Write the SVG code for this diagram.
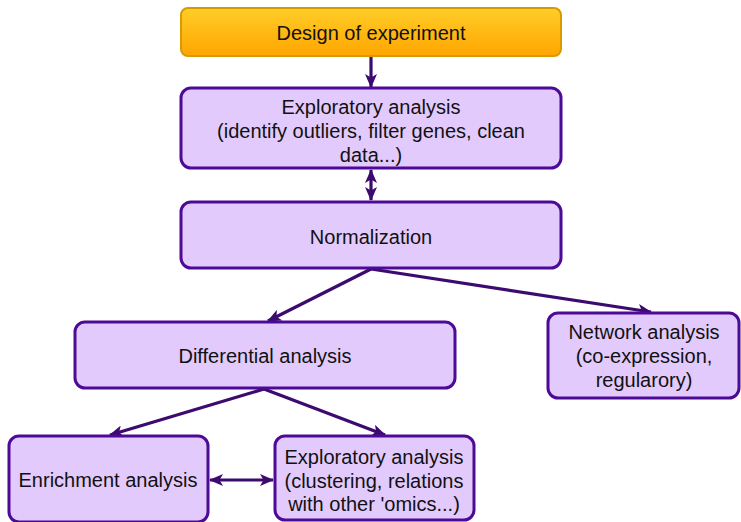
<svg xmlns="http://www.w3.org/2000/svg" width="741" height="522" viewBox="0 0 741 522">
  <defs>
    <linearGradient id="gradOrange" x1="0" y1="0" x2="0" y2="1">
      <stop offset="0" stop-color="#ffcd28"/>
      <stop offset="1" stop-color="#ffa500"/>
    </linearGradient>
    <marker id="arrowEnd" viewBox="0 0 14 12" refX="13" refY="6" markerWidth="14" markerHeight="12" markerUnits="userSpaceOnUse" orient="auto">
      <path d="M0,0 L14,6 L0,12 L3.5,6 Z" fill="#3d0a70"/>
    </marker>
    <marker id="arrowStart" viewBox="0 0 14 12" refX="1" refY="6" markerWidth="14" markerHeight="12" markerUnits="userSpaceOnUse" orient="auto">
      <path d="M14,0 L0,6 L14,12 L10.5,6 Z" fill="#3d0a70"/>
    </marker>
    <style>
      .box { fill: #e3cafd; stroke: #4c0a96; stroke-width: 3; }
      .start { fill: url(#gradOrange); stroke: #d79b00; stroke-width: 2; }
      .label { font-family: "Liberation Sans", Arial, sans-serif; font-size: 20px; fill: #111; text-anchor: middle; dominant-baseline: central; }
      .edge { stroke: #3d0a70; stroke-width: 3.2; fill: none; }
    </style>
  </defs>

  <!-- connectors -->
  <g id="connectors">
    <line class="edge" x1="371" y1="56" x2="371" y2="87" marker-end="url(#arrowEnd)"/>
    <line class="edge" x1="371" y1="170" x2="371" y2="200" marker-start="url(#arrowStart)" marker-end="url(#arrowEnd)"/>
    <line class="edge" x1="371" y1="269" x2="268" y2="321" marker-end="url(#arrowEnd)"/>
    <line class="edge" x1="371" y1="269" x2="651" y2="312" marker-end="url(#arrowEnd)"/>
    <line class="edge" x1="264" y1="389" x2="110" y2="435" marker-end="url(#arrowEnd)"/>
    <line class="edge" x1="264" y1="389" x2="385" y2="435" marker-end="url(#arrowEnd)"/>
    <line class="edge" x1="210" y1="480" x2="273" y2="480" marker-start="url(#arrowStart)" marker-end="url(#arrowEnd)"/>
  </g>

  <!-- nodes -->
  <g id="design">
    <rect class="start" x="181" y="8" width="380" height="48" rx="7"/>
    <text class="label" x="371" y="33">Design of experiment</text>
  </g>

  <g id="exploratory-top">
    <rect class="box" x="181" y="88" width="380" height="80" rx="10"/>
    <text class="label" x="371" y="107">Exploratory analysis</text>
    <text class="label" x="371" y="131">(identify outliers, filter genes, clean</text>
    <text class="label" x="371" y="155">data...)</text>
  </g>

  <g id="normalization">
    <rect class="box" x="181" y="202" width="380" height="66" rx="10"/>
    <text class="label" x="371" y="237">Normalization</text>
  </g>

  <g id="differential">
    <rect class="box" x="75" y="322" width="380" height="66" rx="10"/>
    <text class="label" x="265" y="356">Differential analysis</text>
  </g>

  <g id="network">
    <rect class="box" x="548" y="313" width="191" height="85" rx="10"/>
    <text class="label" x="644" y="332">Network analysis</text>
    <text class="label" x="644" y="356">(co-expression,</text>
    <text class="label" x="644" y="380">regularory)</text>
  </g>

  <g id="enrichment">
    <rect class="box" x="9" y="436" width="199" height="86" rx="10"/>
    <text class="label" x="108" y="480">Enrichment analysis</text>
  </g>

  <g id="exploratory-bottom">
    <rect class="box" x="275" y="436" width="199" height="84" rx="10"/>
    <text class="label" x="374" y="457">Exploratory analysis</text>
    <text class="label" x="374" y="481">(clustering, relations</text>
    <text class="label" x="374" y="504">with other 'omics...)</text>
  </g>
</svg>
